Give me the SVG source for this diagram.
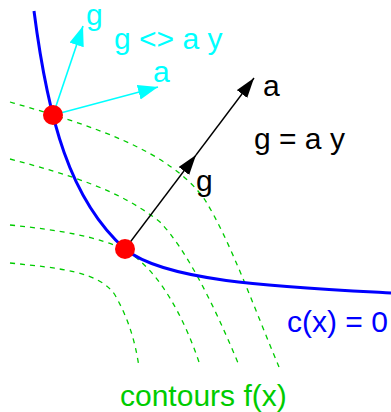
<svg xmlns="http://www.w3.org/2000/svg" width="391" height="412" viewBox="0 0 391 412">
<style>
text{font-family:"Liberation Sans",Arial,sans-serif;font-size:30px}
.contour{fill:none;stroke:#00cc00;stroke-width:1.3;stroke-dasharray:5 5}
.cy{stroke:#00ffff;stroke-width:1.6;fill:none}
.bk{stroke:#000;stroke-width:1.4;fill:none}
</style>
<defs>
<marker id="hc" markerUnits="userSpaceOnUse" markerWidth="22" markerHeight="16" refX="20" refY="7.5" orient="auto"><path d="M0,0 L20,7.5 L0,15 z" fill="#00ffff"/></marker>
<marker id="hk" markerUnits="userSpaceOnUse" markerWidth="22" markerHeight="14" refX="20" refY="6.5" orient="auto"><path d="M0,0 L20,6.5 L0,13 z" fill="#000"/></marker>
</defs>
<g id="contours">
<path class="contour" d="M10,102 C90,125 170,150 205,200 C230,240 255,310 279,367"/>
<path class="contour" d="M10,159 C70,175 120,190 160,222 C185,248 212,300 238,363"/>
<path class="contour" d="M10,225 C60,230 100,237 125,250 C160,270 185,320 200,365"/>
<path class="contour" d="M10,263 C60,268 100,272 115,295 C128,318 135,340 139,367"/>
</g>
<g id="constraint">
<path d="M34,11 C48,120 70,200 125,249 C165,282 280,287 391,293" fill="none" stroke="#0000ff" stroke-width="3"/>
</g>
<g id="connectors">
<line class="cy" x1="53" y1="115" x2="83" y2="26" marker-end="url(#hc)"/>
<line class="cy" x1="53" y1="115" x2="158" y2="87" marker-end="url(#hc)"/>
<line class="bk" x1="125" y1="249" x2="196" y2="155" marker-end="url(#hk)"/>
<line class="bk" x1="196" y1="155" x2="254" y2="78" marker-end="url(#hk)"/>
</g>
<g id="point1"><circle cx="53" cy="115" r="10" fill="#ff0000"/></g>
<g id="point2"><circle cx="125" cy="249" r="10" fill="#ff0000"/></g>
<g id="labels">
<text x="86" y="25" fill="#00ffff">g</text>
<text x="114" y="49" fill="#00ffff">g &lt;&gt; a y</text>
<text x="153" y="82" fill="#00ffff">a</text>
<text x="263" y="96" fill="#000">a</text>
<text x="254" y="149" fill="#000">g = a y</text>
<text x="196" y="191" fill="#000">g</text>
<text x="287" y="332" fill="#0000ff">c(x) = 0</text>
<text x="120" y="406" fill="#00cc00">contours f(x)</text>
</g>
</svg>
